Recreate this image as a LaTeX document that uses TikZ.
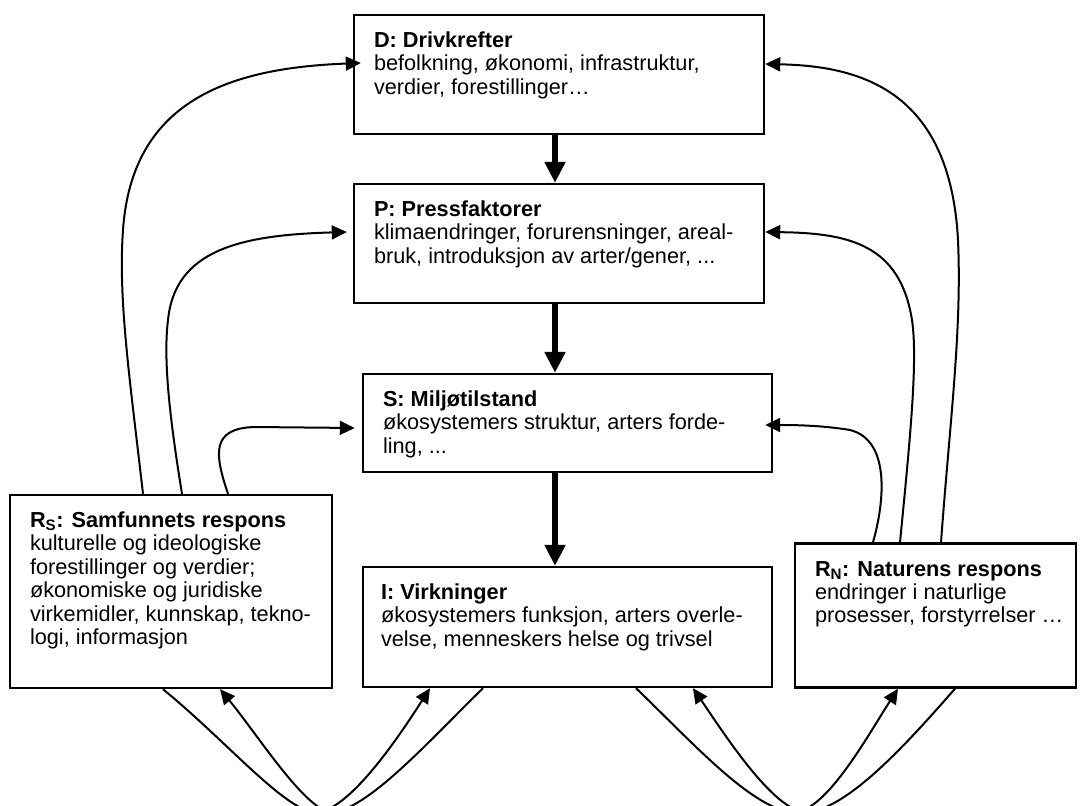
\documentclass[tikz,border=0pt]{standalone}
\usepackage{fontspec}
\setmainfont{Liberation Sans}
\usetikzlibrary{arrows.meta}
\begin{document}
\begin{tikzpicture}[x=1pt,y=-1pt,
  box/.style={draw, line width=2.4pt, fill=white, inner sep=0pt},
  txt/.style={anchor=north west, inner sep=0pt, align=left, font=\fontsize{21.7}{23.4}\selectfont},
  link/.style={line width=2pt, -{Triangle[length=15pt,width=14pt]}},
  flow/.style={line width=5.5pt, -{Triangle[length=21pt,width=20pt]}}]
\useasboundingbox (0,0) rectangle (1082,806);

% boxes
\node[box, minimum width=410pt, minimum height=119pt] (D) at (559,74.5) {};
\node[box, minimum width=410pt, minimum height=119pt] (P) at (559,243.5) {};
\node[box, minimum width=409pt, minimum height=98pt] (S) at (567.5,423) {};
\node[box, minimum width=409pt, minimum height=120pt] (I) at (567.5,627) {};
\node[box, minimum width=322pt, minimum height=193pt] (Rs) at (171,591.5) {};
\node[box, minimum width=281pt, minimum height=144pt] (RN) at (935.5,615.5) {};

% texts
\node[txt] (Dt) at ([shift={(21,17.5)}]D.north west) {\rule{0pt}{16pt}\textbf{D: Drivkrefter}\\befolkning, økonomi, infrastruktur,\\verdier, forestillinger…};
\node[txt] (Pt) at ([shift={(21,17.5)}]P.north west) {\rule{0pt}{16pt}\textbf{P: Pressfaktorer}\\klimaendringer, forurensninger, areal-\\bruk, introduksjon av arter/gener, ...};
\node[txt] (St) at ([shift={(21,17.5)}]S.north west) {\rule{0pt}{16pt}\textbf{S: Miljøtilstand}\\økosystemers struktur, arters forde-\\ling, ...};
\node[txt] (It) at ([shift={(19,17.5)}]I.north west) {\rule{0pt}{16pt}\textbf{I: Virkninger}\\økosystemers funksjon, arters overle-\\velse, menneskers helse og trivsel};
\node[txt] (Rst) at ([shift={(21,17.5)}]Rs.north west) {\rule{0pt}{16pt}\textbf{R\textsubscript{S}: Samfunnets respons}\\kulturelle og ideologiske\\forestillinger og verdier;\\økonomiske og juridiske\\virkemidler, kunnskap, tekno-\\logi, informasjon};
\node[txt] (RNt) at ([shift={(21,17.5)}]RN.north west) {\rule{0pt}{16pt}\textbf{R\textsubscript{N}: Naturens respons}\\endringer i naturlige\\prosesser, forstyrrelser …};

% main chain
\draw[flow] ([xshift=-4pt]D.south) -- ([xshift=-4pt]P.north);
\draw[flow] ([xshift=-4pt]P.south) -- ([xshift=-12.5pt]S.north);
\draw[flow] ([xshift=-12.5pt]S.south) -- ([xshift=-12.5pt]I.north);

% left feedback curves
\draw[link] ([xshift=-28pt]Rs.north) .. controls (130,380) and (118,300) .. (123,230)
  .. controls (132,100) and (230,68) .. ([xshift=8pt,yshift=11.5pt]D.west);
\draw[link] ([xshift=11pt]Rs.north) .. controls (170,420) and (163,360) .. (168,320)
  .. controls (175,250) and (240,235) .. ([xshift=-6pt,yshift=11.5pt]P.west);
\draw[link] ([xshift=57pt]Rs.north) .. controls (215,455) and (210,428) .. (255,427)
  -- ([xshift=-7pt,yshift=-5pt]S.west);

% right feedback curves
\draw[link] ([xshift=5.5pt]RN.north) .. controls (950,420) and (962,330) .. (958,240)
  .. controls (950,90) and (860,66) .. ([yshift=10.5pt]D.east);
\draw[link] ([xshift=-35.5pt]RN.north) .. controls (910,440) and (918,360) .. (912,320)
  .. controls (900,245) and (850,233) .. ([yshift=11.5pt]P.east);
\draw[link] ([xshift=-62.5pt]RN.north) .. controls (885,500) and (890,440) .. (850,430)
  .. controls (820,425) and (790,425) .. ([xshift=-8pt,yshift=-2pt]S.east);

% bottom loops
\begin{scope}
\clip (0,0) rectangle (1082,806);
\draw[link] ([xshift=-8pt]Rs.south) .. controls (225,740) and (280,805) .. (312,812)
  .. controls (345,818) and (400,735) .. ([xshift=-137.5pt]I.south);
\draw[link] ([xshift=-84.5pt]I.south) .. controls (430,740) and (372,805) .. (335,812)
  .. controls (310,818) and (258,735) .. ([xshift=49pt]Rs.south);
\draw[link] ([xshift=68.5pt]I.south) .. controls (690,740) and (748,805) .. (790,812)
  .. controls (823,818) and (868,735) .. ([xshift=-37.5pt]RN.south);
\draw[link] ([xshift=19.5pt]RN.south) .. controls (910,740) and (852,805) .. (810,812)
  .. controls (778,818) and (725,735) .. ([xshift=125.5pt]I.south);
\end{scope}
\end{tikzpicture}
\end{document}
